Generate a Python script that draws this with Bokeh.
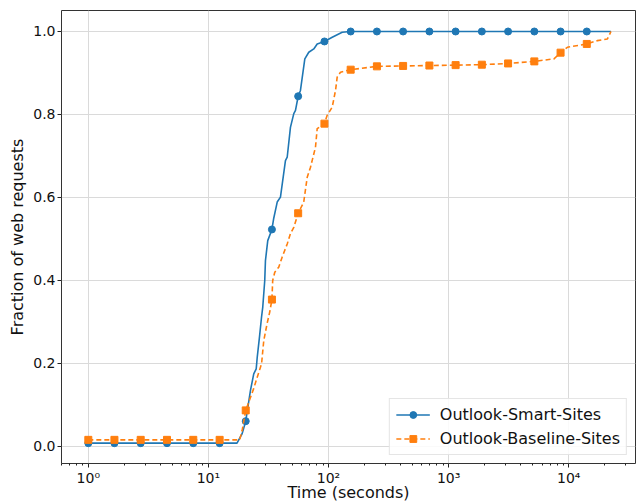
from bokeh.plotting import figure
from bokeh.models import FixedTicker, Range1d, Legend, LegendItem
from bokeh.embed import file_html
from bokeh.resources import INLINE

# ---- data ----
smart_x = [1, 17.3, 19.1, 20.45, 22.4, 23.85, 25.0, 25.5, 26.6, 27.7, 28.35, 29.45,
           29.85, 31.2, 33.8, 35.0, 37.4, 39.8, 43.8, 45.3, 48.2, 51.4, 53.1, 55.9,
           58.4, 63.5, 68.5, 75.4, 80.5, 92.5, 107.4, 130, 153, 22500]
smart_y = [0.008, 0.008, 0.031, 0.061, 0.135, 0.175, 0.187, 0.215, 0.263, 0.312, 0.336, 0.400,
           0.448, 0.496, 0.523, 0.550, 0.589, 0.601, 0.689, 0.697, 0.769, 0.802, 0.810, 0.844,
           0.858, 0.934, 0.950, 0.958, 0.970, 0.976, 0.986, 0.998, 1.0, 1.0]

baseline_x = [1, 18.2, 19.1, 20.45, 22.2, 23.85, 25.5, 27.7, 28.9, 30.8, 32.4, 33.8,
              34.3, 35.7, 38.5, 41.1, 45.3, 48.2, 51.4, 55.9, 62.2, 66.5, 70.8, 77.9,
              80.5, 92.5, 97.5, 107.4, 114.4, 118.1, 125.9, 153, 253, 418, 692, 1144,
              1892, 3129, 5175, 7543, 8558, 9750, 14150, 17340, 21000, 22500]
baseline_y = [0.016, 0.016, 0.039, 0.087, 0.115, 0.140, 0.167, 0.199, 0.255, 0.296, 0.324, 0.354,
              0.400, 0.420, 0.432, 0.456, 0.488, 0.513, 0.528, 0.562, 0.589, 0.649, 0.673, 0.721,
              0.766, 0.778, 0.798, 0.818, 0.858, 0.890, 0.902, 0.908, 0.916, 0.917, 0.918, 0.919,
              0.920, 0.923, 0.928, 0.934, 0.949, 0.962, 0.970, 0.978, 0.982, 1.0]

marker_x = [1.0, 1.65, 2.73, 4.52, 7.48, 12.4, 20.45, 33.8, 55.9, 92.5,
            153, 253, 418, 692, 1144, 1892, 3129, 5175, 8558, 14150]
smart_marker_y = [0.008, 0.008, 0.008, 0.008, 0.008, 0.008, 0.061, 0.523, 0.844, 0.976,
                  1.0, 1.0, 1.0, 1.0, 1.0, 1.0, 1.0, 1.0, 1.0, 1.0]
baseline_marker_y = [0.016, 0.016, 0.016, 0.016, 0.016, 0.016, 0.087, 0.354, 0.562, 0.778,
                     0.908, 0.916, 0.917, 0.918, 0.919, 0.920, 0.923, 0.928, 0.949, 0.970]

series_names = ["Outlook-Smart-Sites", "Outlook-Baseline-Sites"]
x_ticks = [1, 10, 100, 1000, 10000]
x_tick_labels = ["10\u2070", "10\u00b9", "10\u00b2", "10\u00b3", "10\u2074"]
y_ticks = [0.0, 0.2, 0.4, 0.6, 0.8, 1.0]
y_tick_labels = ["0.0", "0.2", "0.4", "0.6", "0.8", "1.0"]

BLUE = "#1f77b4"
ORANGE = "#ff7f0e"
FONT = "DejaVu Sans"

p = figure(width=637, height=504, x_axis_type="log",
           x_range=Range1d(0.598, 36000), y_range=Range1d(-0.041, 1.0506),
           output_backend="svg", toolbar_location=None,
           min_border_left=61, min_border_right=2, min_border_top=10, min_border_bottom=41)

p.background_fill_color = "white"
p.border_fill_color = "white"
p.outline_line_color = "#333333"
p.outline_line_width = 1

# lines & markers
l1 = p.line(smart_x, smart_y, line_color=BLUE, line_width=1.6, line_join="round")
m1 = p.scatter(marker_x, smart_marker_y, marker="circle", size=7, fill_color=BLUE, line_color=BLUE)
l2 = p.line(baseline_x, baseline_y, line_color=ORANGE, line_width=1.6, line_dash="5 3", line_join="round")
m2 = p.scatter(marker_x, baseline_marker_y, marker="square", size=7, fill_color=ORANGE, line_color=ORANGE)

# axes
xt = FixedTicker(ticks=x_ticks,
                 minor_ticks=[m * 10 ** k for k in range(-1, 5) for m in range(2, 10)])
p.xaxis.ticker = xt
p.xaxis.major_label_overrides = {t: s for t, s in zip(x_ticks, x_tick_labels)}
p.yaxis.ticker = FixedTicker(ticks=y_ticks)
p.yaxis.major_label_overrides = {t: s for t, s in zip(y_ticks, y_tick_labels)}

for ax in (p.xaxis[0], p.yaxis[0]):
    ax.axis_line_color = None
    ax.major_tick_line_color = "#222222"
    ax.minor_tick_line_color = "#222222"
    ax.major_tick_out = 4
    ax.major_tick_in = 0
    ax.minor_tick_out = 2
    ax.minor_tick_in = 0
    ax.major_label_text_font = FONT
    ax.major_label_text_font_size = "14px"
    ax.major_label_text_color = "#111111"
    ax.axis_label_text_font = FONT
    ax.axis_label_text_font_size = "16px"
    ax.axis_label_text_font_style = "normal"
    ax.axis_label_text_color = "#111111"

p.yaxis.minor_tick_line_color = None
p.xaxis.axis_label = "Time (seconds)"
p.yaxis.axis_label = "Fraction of web requests"
p.xaxis.major_label_standoff = 2
p.xaxis.axis_label_standoff = -6
p.yaxis.major_label_standoff = 2
p.yaxis.axis_label_standoff = 3

p.xgrid.ticker = xt
p.xgrid.grid_line_color = "#dadada"
p.ygrid.grid_line_color = "#dadada"
p.xgrid.grid_line_width = 1
p.ygrid.grid_line_width = 1

legend = Legend(items=[LegendItem(label=series_names[0], renderers=[l1, m1]),
                       LegendItem(label=series_names[1], renderers=[l2, m2])],
                location="bottom_right")
legend.label_text_font = FONT
legend.label_text_font_size = "16px"
legend.label_text_color = "#111111"
legend.glyph_width = 34
legend.glyph_height = 17
legend.label_height = 17
legend.label_standoff = 10
legend.spacing = 5
legend.padding = 6
legend.margin = 8
legend.border_line_color = "#cccccc"
legend.border_line_width = 1
legend.background_fill_alpha = 0.85
p.add_layout(legend)

open("out.html", "w").write(file_html(p, INLINE))
